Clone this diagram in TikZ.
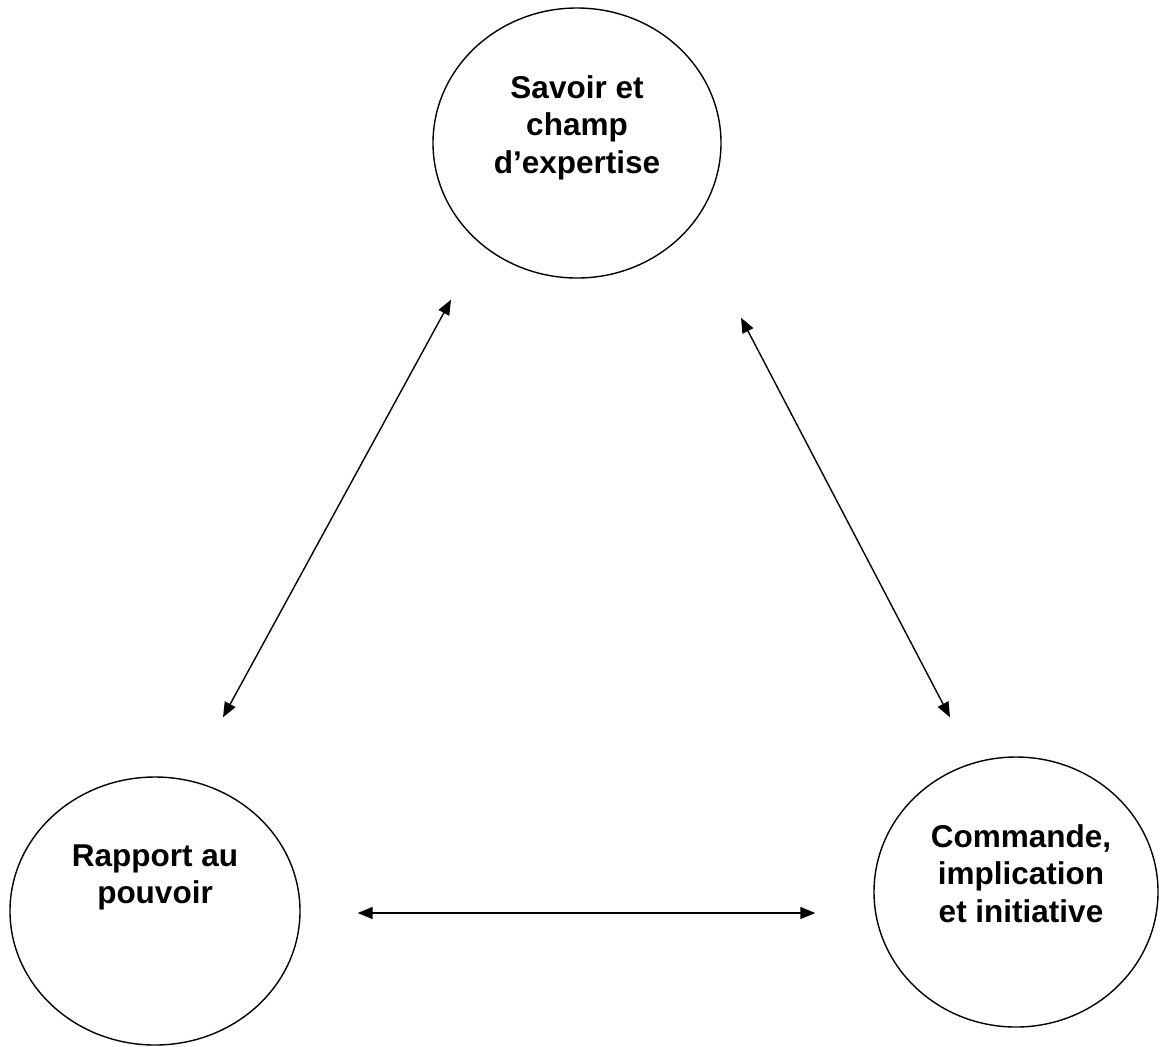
\documentclass[tikz,border=0pt]{standalone}
\usepackage{fontspec}
\setmainfont{Liberation Sans}
\usetikzlibrary{shapes.geometric,arrows.meta}

\tikzset{
  bubble/.style={draw, ellipse, line width=0.7pt, inner sep=0pt},
  caption/.style={align=center, anchor=north, inner sep=0pt,
    font=\bfseries\fontsize{15.75}{18.7}\selectfont},
  link/.style={{Triangle[length=7.5pt,width=6pt]}-{Triangle[length=7.5pt,width=6pt]}, line width=0.7pt}
}

\begin{document}
\begin{tikzpicture}[x=0.5pt,y=-0.5pt]
    % Page frame
    \useasboundingbox (0,0) rectangle (1160,1046);

    % The three poles
    \node[bubble, minimum width=144pt, minimum height=135pt] (savoir) at (577,143) {};
    \node[bubble, minimum width=145pt, minimum height=134pt] (pouvoir) at (155,911) {};
    \node[bubble, minimum width=142pt, minimum height=135pt] (commande) at (1016,892) {};

    % Their texts, set from the top of each ellipse
    \node[caption] (savoirtext) at ([yshift=-34pt]savoir.north) {Savoir et\\champ\\d’expertise};
    \node[caption] (pouvoirtext) at ([yshift=-34pt]pouvoir.north) {Rapport au\\pouvoir};
    \node[caption] (commandetext) at ([xshift=2.5pt,yshift=-34pt]commande.north) {Commande,\\implication\\et initiative};

    % Two-way links
    \draw[link] ([shift={(-126,21)}]savoir.south) -- ([shift={(68,-59)}]pouvoir.north);
    \draw[link] ([shift={(164,39)}]savoir.south) -- ([shift={(-66,-39)}]commande.north);
    \draw[link] ([shift={(57,2)}]pouvoir.east) -- ([shift={(-58,21)}]commande.west);
\end{tikzpicture}
\end{document}
